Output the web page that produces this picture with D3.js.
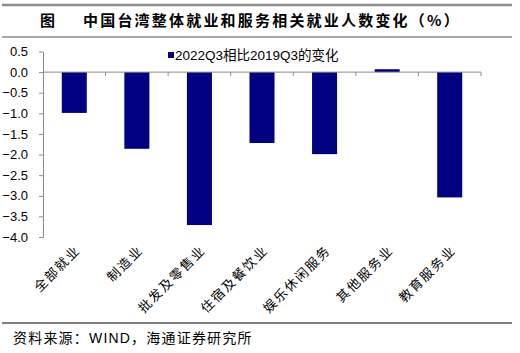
<!DOCTYPE html>
<html>
<head>
<meta charset="utf-8">
<script src="https://cdn.jsdelivr.net/npm/d3@7"></script>
<style>
  body { margin: 0; background: #fff; }
  svg { display: block; font-family: Arial, "Liberation Sans", "Noto Sans CJK SC", sans-serif; }
</style>
</head>
<body>
<svg width="520" height="353"></svg>
<script>
var categories = ["全部就业", "制造业", "批发及零售业", "住宿及餐饮业", "娱乐休闲服务", "其他服务业", "教育服务业"];
var values = [-0.99, -1.86, -3.71, -1.72, -1.99, 0.07, -3.04];
var yTicks = [0.5, 0.0, -0.5, -1.0, -1.5, -2.0, -2.5, -3.0, -3.5, -4.0];
var seriesName = "2022Q3相比2019Q3的变化";

var svg = d3.select("svg"),
    width = +svg.attr("width"),
    height = +svg.attr("height");

var cjk = "'Noto Sans CJK SC', sans-serif";

// header rules + title
svg.append("line").attr("x1", 2).attr("x2", 512).attr("y1", 5).attr("y2", 5)
    .attr("stroke", "#8c8c8c").attr("stroke-width", 2.5);
svg.append("line").attr("x1", 2).attr("x2", 512).attr("y1", 37).attr("y2", 37)
    .attr("stroke", "#8c8c8c").attr("stroke-width", 1.5);
svg.append("text").attr("x", 40).attr("y", 26)
    .style("font-family", cjk).style("font-size", "15px").style("font-weight", "bold")
    .text("图");
svg.append("text").attr("x", 83).attr("y", 26)
    .style("font-family", cjk).style("font-size", "15px").style("font-weight", "bold")
    .style("letter-spacing", "2.2px")
    .text("中国台湾整体就业和服务相关就业人数变化（%）");

var x = d3.scaleBand().domain(categories).range([43, 481]).paddingInner(0.6).paddingOuter(0.3);
var y = d3.scaleLinear().domain([-4, 0.5]).range([237, 51.5]);

// y axis
var yAxis = svg.append("g").attr("transform", "translate(43,0)")
    .call(d3.axisLeft(y).tickValues(yTicks).tickSize(4).tickSizeOuter(0).tickFormat(d3.format(".1f")));
yAxis.select(".domain").attr("stroke", "#8c8c8c");
yAxis.selectAll(".tick line").attr("stroke", "#8c8c8c");
yAxis.selectAll(".tick text").attr("x", -15).style("font-size", "13px").style("font-family", "Arial, 'Liberation Sans'").attr("fill", "#000");

// bars
svg.selectAll(".bar")
  .data(values)
  .enter().append("rect")
    .attr("class", "bar")
    .attr("x", function(d, i) { return x(categories[i]); })
    .attr("width", x.bandwidth())
    .attr("y", function(d) { return y(Math.max(0, d)); })
    .attr("height", function(d) { return Math.abs(y(d) - y(0)); })
    .attr("fill", "#000080");

// zero line with category separators
var bandStep = x.step();
var sepData = d3.range(categories.length).map(function(i) { return 43 + (i + 1) * bandStep; });
svg.append("line").attr("x1", 43).attr("x2", 481).attr("y1", y(0)).attr("y2", y(0))
    .attr("stroke", "#8c8c8c").attr("stroke-width", 1);
svg.selectAll(".sep").data(sepData).enter().append("line")
    .attr("x1", function(d) { return d; }).attr("x2", function(d) { return d; })
    .attr("y1", y(0)).attr("y2", y(0) + 4)
    .attr("stroke", "#8c8c8c");

// category labels
svg.selectAll(".cat").data(categories).enter().append("text")
    .attr("transform", function(d) {
      return "translate(" + (x(d) + x.bandwidth() / 2 + 7) + ",251) rotate(-45)";
    })
    .attr("text-anchor", "end")
    .style("font-family", cjk).style("font-size", "13px")
    .style("letter-spacing", "1.8px")
    .text(function(d) { return d; });

// legend
svg.append("rect").attr("x", 168).attr("y", 52).attr("width", 6).attr("height", 6).attr("fill", "#000080");
svg.append("text").attr("x", 175).attr("y", 59.5)
    .style("font-family", "Arial, 'Noto Sans CJK SC'").style("font-size", "13.5px")
    .text(seriesName);

// footer
svg.append("line").attr("x1", 2).attr("x2", 512).attr("y1", 323).attr("y2", 323)
    .attr("stroke", "#000").attr("stroke-width", 1);
svg.append("text").attr("x", 13).attr("y", 343)
    .style("font-family", "Arial, 'Noto Sans CJK SC'").style("font-size", "14px")
    .style("letter-spacing", "1.2px")
    .text("资料来源：WIND，海通证券研究所");
</script>
</body>
</html>
